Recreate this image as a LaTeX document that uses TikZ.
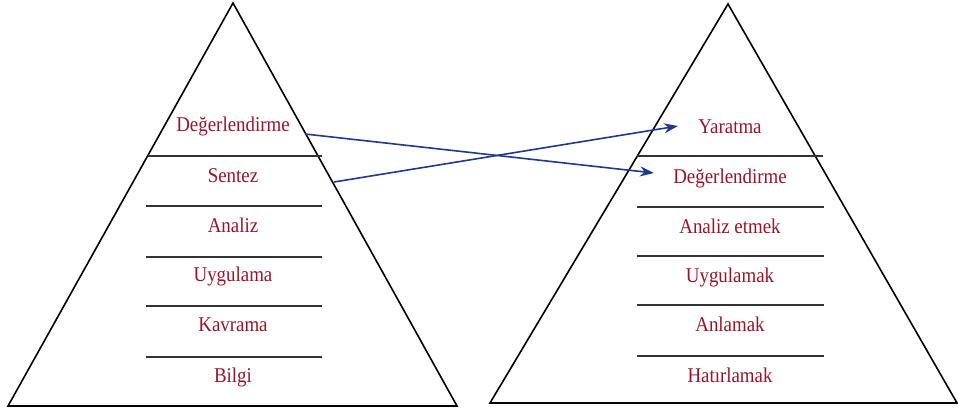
\documentclass[tikz,border=0pt]{standalone}
\usepackage{fontspec}
\setmainfont{Liberation Serif}
\newfontfamily\lblfont[FakeStretch=0.9]{Liberation Serif}
\usetikzlibrary{arrows.meta}
\definecolor{lblred}{HTML}{9A1428}
\definecolor{arrblue}{HTML}{1F3A8C}
\tikzset{
  pyr/.style={draw=black, line width=1.6pt, line join=miter},
  divider/.style={draw=black!80, line width=1.1pt},
  lbl/.style={text=lblred, font=\lblfont\fontsize{21}{24}\selectfont, inner sep=0pt, anchor=base},
  conn/.style={draw=arrblue, line width=1.6pt, -{Stealth[length=14pt,width=10pt]}}
}
\begin{document}
\begin{tikzpicture}[x=1pt,y=-1pt]
\useasboundingbox (0,0) rectangle (958,412);
% left pyramid
\draw[pyr] (233,3) -- (457,406) -- (8,406) -- cycle;
\draw[divider] (148,156) -- (322,156);
\draw[divider] (146,206) -- (322,206);
\draw[divider] (146,257) -- (322,257);
\draw[divider] (146,306) -- (322,306);
\draw[divider] (146,357) -- (322,357);
\node[lbl] (l1) at (233,131) {Değerlendirme};
\node[lbl] (l2) at (233,182) {Sentez};
\node[lbl] (l3) at (233,232) {Analiz};
\node[lbl] (l4) at (233,281) {Uygulama};
\node[lbl] (l5) at (233,331) {Kavrama};
\node[lbl] (l6) at (233,382) {Bilgi};
% right pyramid
\draw[pyr] (728,4) -- (957,403) -- (490,403) -- cycle;
\draw[divider, line width=1.8pt] (637,156) -- (823,156);
\draw[divider] (637,207) -- (824,207);
\draw[divider] (637,256) -- (824,256);
\draw[divider] (637,305) -- (824,305);
\draw[divider] (637,356) -- (824,356);
\node[lbl] (r1) at (730,133) {Yaratma};
\node[lbl] (r2) at (730,183) {Değerlendirme};
\node[lbl] (r3) at (730,233) {Analiz etmek};
\node[lbl] (r4) at (730,282) {Uygulamak};
\node[lbl] (r5) at (730,331) {Anlamak};
\node[lbl] (r6) at (730,382) {Hatırlamak};
% connectors
\coordinate (a1s) at (305,134);
\coordinate (a1e) at (654,173);
\coordinate (a2s) at (334,182);
\coordinate (a2e) at (678,126);
\draw[conn] (a1s) -- (a1e);
\draw[conn] (a2s) -- (a2e);
\end{tikzpicture}
\end{document}
